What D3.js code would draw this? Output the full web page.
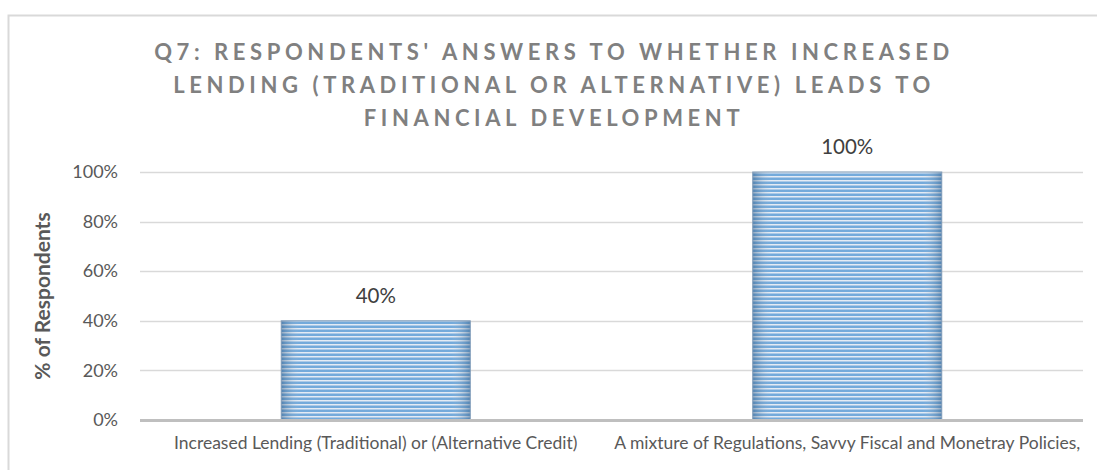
<!DOCTYPE html>
<html>
<head>
<meta charset="utf-8">
<script src="https://cdn.jsdelivr.net/npm/d3@7"></script>
<style>
  body { margin: 0; background: #fff; }
  svg { display: block; }
</style>
</head>
<body>
<div class="chart"></div>
<script>
// data
const categories = ["Increased Lending (Traditional) or (Alternative Credit)",
                    "A mixture of Regulations, Savvy Fiscal and Monetray Policies,"]
const values = [0.40, 1.00]
const yTicks = [0, 0.2, 0.4, 0.6, 0.8, 1.0]
const titleLines = ["Q7: RESPONDENTS' ANSWERS TO WHETHER INCREASED",
                    "LENDING (TRADITIONAL OR ALTERNATIVE) LEADS TO",
                    "FINANCIAL DEVELOPMENT"]

var W = 1097, H = 470
var margin = {top: 172, right: 14, bottom: 50, left: 140}
var width = W - margin.left - margin.right,
    height = H - margin.top - margin.bottom
var font = "Lato, 'Open Sans', sans-serif"

var svg = d3.select(".chart").append("svg")
  .attr("width", W)
  .attr("height", H)

// stripes + edge shading for the bars
var defs = svg.append("defs")
var pat = defs.append("pattern")
  .attr("id", "stripes")
  .attr("patternUnits", "userSpaceOnUse")
  .attr("width", 8).attr("height", 4)
pat.append("rect").attr("width", 8).attr("height", 4).attr("fill", "#dfe8f3")
pat.append("rect").attr("y", 1.5).attr("width", 8).attr("height", 2.5).attr("fill", "#5b9bd5")

var grad = defs.append("linearGradient").attr("id", "edge")
  .attr("x1", "0").attr("x2", "1").attr("y1", "0").attr("y2", "0")
grad.append("stop").attr("offset", "0").attr("stop-color", "#4a6f93").attr("stop-opacity", 0.55)
grad.append("stop").attr("offset", "0.1").attr("stop-color", "#ffffff").attr("stop-opacity", 0.15)
grad.append("stop").attr("offset", "0.9").attr("stop-color", "#ffffff").attr("stop-opacity", 0.15)
grad.append("stop").attr("offset", "1").attr("stop-color", "#4a6f93").attr("stop-opacity", 0.55)

// outer frame
svg.append("path")
  .attr("d", "M8.5," + (H + 2) + " V15.5 H" + (W + 2))
  .attr("fill", "none")
  .attr("stroke", "#d9d9d9")
  .attr("stroke-width", 2)

// title
svg.append("text")
  .attr("x", 554)
  .attr("y", 60)
  .attr("text-anchor", "middle")
  .style("font-family", font)
  .style("font-size", "22px")
  .style("font-weight", "bold")
  .style("letter-spacing", "4.6px")
  .style("fill", "#808080")
  .selectAll("tspan")
  .data(titleLines)
  .enter().append("tspan")
  .attr("x", 554)
  .attr("dy", (d, i) => i == 0 ? 0 : 33)
  .text(d => d)

var chart = svg.append("g")
  .attr("transform", "translate(" + margin.left + "," + margin.top + ")")

var x = d3.scaleBand().domain(categories).range([0, width]).paddingInner(0).paddingOuter(0)
var y = d3.scaleLinear().domain([0, 1]).range([height, 0])

// gridlines
chart.selectAll(".grid")
  .data(yTicks.slice(1))
  .enter().append("line")
  .attr("x1", 0).attr("x2", width)
  .attr("y1", d => Math.round(y(d)) + 0.5)
  .attr("y2", d => Math.round(y(d)) + 0.5)
  .attr("stroke", "#d9d9d9")
  .attr("stroke-width", 1.5)

// y axis labels
var yAxis = chart.append("g")
  .call(d3.axisLeft(y).tickValues(yTicks).tickFormat(d3.format(".0%")).tickSize(0).tickPadding(22))
yAxis.select(".domain").remove()
yAxis.selectAll("text")
  .style("font-family", font)
  .style("font-size", "18px")
  .style("fill", "#595959")

// y axis title
svg.append("text")
  .attr("transform", "translate(50," + (margin.top + height / 2) + ") rotate(-90)")
  .attr("text-anchor", "middle")
  .style("font-family", font)
  .style("font-size", "21px")
  .style("font-weight", "bold")
  .style("fill", "#595959")
  .text("% of Respondents")

// bars
var barW = 189
var bars = chart.selectAll(".bar")
  .data(values)
  .enter().append("g")
bars.append("rect")
  .attr("x", (d, i) => x(categories[i]) + x.bandwidth() / 2 - barW / 2)
  .attr("y", d => y(d))
  .attr("width", barW)
  .attr("height", d => height - y(d))
  .attr("fill", "url(#stripes)")
bars.append("rect")
  .attr("x", (d, i) => x(categories[i]) + x.bandwidth() / 2 - barW / 2)
  .attr("y", d => y(d))
  .attr("width", barW)
  .attr("height", d => height - y(d))
  .attr("fill", "url(#edge)")
  .attr("stroke", "#7f9bb8")
  .attr("stroke-width", 1)

// data labels
bars.append("text")
  .attr("x", (d, i) => x(categories[i]) + x.bandwidth() / 2)
  .attr("y", d => y(d) - 18)
  .attr("text-anchor", "middle")
  .style("font-family", font)
  .style("font-size", "20.5px")
  .style("fill", "#404040")
  .text(d3.format(".0%"))

// x axis line
chart.append("line")
  .attr("x1", 0).attr("x2", width)
  .attr("y1", height + 0.5).attr("y2", height + 0.5)
  .attr("stroke", "#bfbfbf")
  .attr("stroke-width", 3)

// x labels
chart.selectAll(".xlab")
  .data(categories)
  .enter().append("text")
  .attr("x", d => x(d) + x.bandwidth() / 2)
  .attr("y", height + 29)
  .attr("text-anchor", "middle")
  .style("font-family", font)
  .style("font-size", "17.5px")
  .style("fill", "#595959")
  .text(d => d)
</script>
</body>
</html>
